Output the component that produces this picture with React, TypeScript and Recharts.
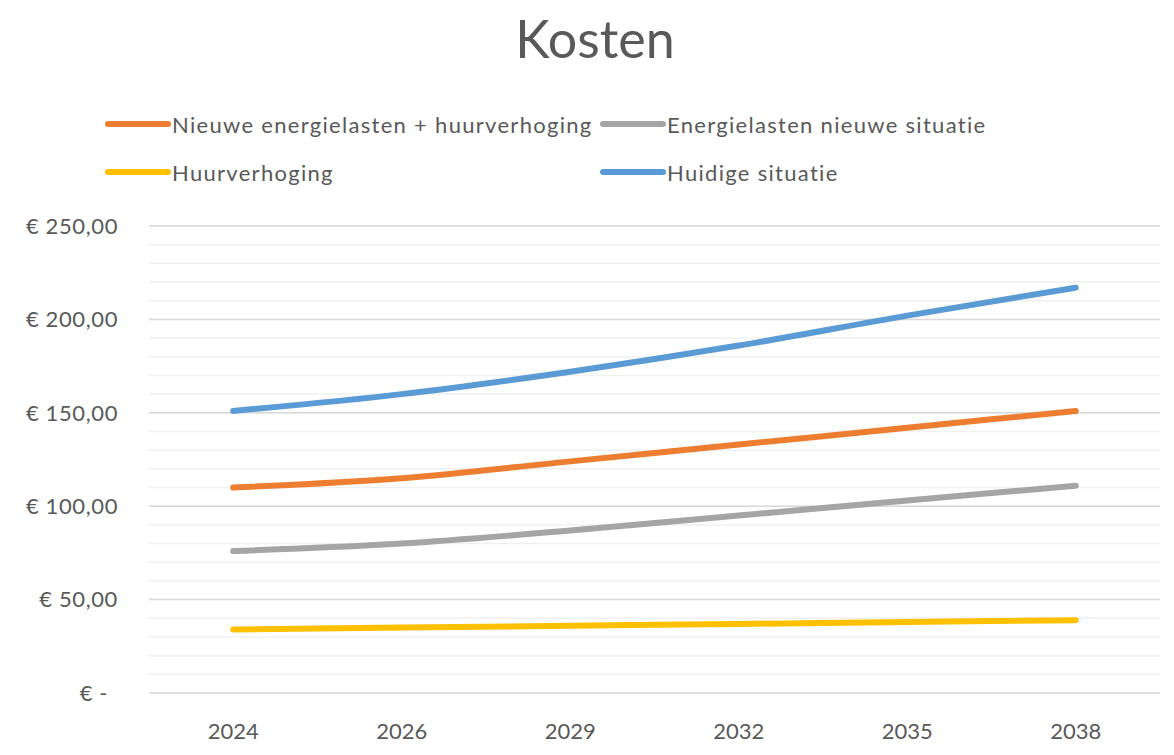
import React from 'react';
import { LineChart, Line, XAxis, YAxis, CartesianGrid, ReferenceLine, Legend } from 'recharts';

const years = ['2024', '2026', '2029', '2032', '2035', '2038'];
const nieuweEnergieHuur = [110, 115, 124, 133, 142, 151];
const energieNieuw = [76, 80, 87, 95, 103, 111];
const huurverhoging = [34, 35, 36, 37, 38, 39];
const huidigeSituatie = [151, 160, 172, 186, 202, 217];

const yTicks = [0, 10, 20, 30, 40, 50, 60, 70, 80, 90, 100, 110, 120, 130, 140, 150, 160, 170, 180, 190, 200, 210, 220, 230, 240, 250];
const yMajorTicks = [0, 50, 100, 150, 200, 250];

const series = [
  { key: 'nieuwe', name: 'Nieuwe energielasten + huurverhoging', color: '#ED7D31', values: nieuweEnergieHuur },
  { key: 'energie', name: 'Energielasten nieuwe situatie', color: '#A5A5A5', values: energieNieuw },
  { key: 'huur', name: 'Huurverhoging', color: '#FFC000', values: huurverhoging },
  { key: 'huidig', name: 'Huidige situatie', color: '#5B9BD5', values: huidigeSituatie },
];

const data = years.map((year, i) => {
  const row: Record<string, string | number> = { year };
  series.forEach((s) => {
    row[s.key] = s.values[i];
  });
  return row;
});

const FONT = 'Lato, "Open Sans", sans-serif';
const TEXT = '#595959';

const fmt = (v: number) => (v === 0 ? '€ -' : '€ ' + v.toFixed(2).replace('.', ','));

const YTick = (props: any) => {
  const { x, y, payload } = props;
  const v = Number(payload.value);
  if (v % 50 !== 0) return <g />;
  return (
    <text x={v === 0 ? x - 10 : x} y={y} dy="0.35em" textAnchor="end" fill={TEXT} fontSize={22} letterSpacing={0.6} fontFamily={FONT}>
      {fmt(v)}
    </text>
  );
};

const renderLegend = () => (
  <div style={{ display: 'grid', gridTemplateColumns: '495px 500px', paddingLeft: 105, fontFamily: FONT, fontSize: 22, letterSpacing: '1.3px', color: TEXT }}>
    {series.map((s) => (
      <div key={s.key} style={{ display: 'flex', alignItems: 'center', height: 48 }}>
        <svg width={66} height={10} style={{ display: 'block' }}>
          <line x1={3} y1={5} x2={63} y2={5} stroke={s.color} strokeWidth={6} strokeLinecap="round" />
        </svg>
        <span style={{ marginLeft: 1, whiteSpace: 'nowrap' }}>{s.name}</span>
      </div>
    ))}
  </div>
);

export default function App() {
  return (
    <div style={{ position: 'absolute', left: 0, top: 0, width: 1174, height: 755, background: '#fff' }}>
      <div
        style={{
          position: 'absolute',
          left: 8,
          top: 8,
          width: 1174,
          textAlign: 'center',
          fontFamily: FONT,
          fontSize: 52,
          lineHeight: '60px',
          color: TEXT,
          fontWeight: 400,
        }}
      >
        Kosten
      </div>
      <LineChart width={1174} height={755} data={data} margin={{ top: 226, right: 14, left: 0, bottom: 0 }}>
        <CartesianGrid vertical={false} stroke="#F0F0F0" strokeWidth={1.5} />
        {yMajorTicks.map((t) => (
          <ReferenceLine key={t} y={t} stroke="#D9D9D9" strokeWidth={1.5} />
        ))}
        <XAxis
          dataKey="year"
          scale="band"
          axisLine={false}
          tickLine={false}
          tickSize={0}
          tickMargin={30}
          height={62}
          tick={{ fill: TEXT, fontSize: 22, fontFamily: FONT }}
        />
        <YAxis
          type="number"
          domain={[0, 250]}
          ticks={yTicks}
          interval={0}
          width={149}
          axisLine={false}
          tickLine={false}
          tickSize={0}
          tickMargin={31}
          tick={<YTick />}
        />
        <Legend
          layout="horizontal"
          verticalAlign="middle"
          align="center"
          content={renderLegend}
          wrapperStyle={{ top: 100, left: 0, width: 1174 }}
        />
        {series.map((s) => (
          <Line
            key={s.key}
            type="monotone"
            dataKey={s.key}
            name={s.name}
            stroke={s.color}
            strokeWidth={6}
            strokeLinecap="round"
            dot={false}
            activeDot={false}
            isAnimationActive={false}
          />
        ))}
      </LineChart>
    </div>
  );
}
